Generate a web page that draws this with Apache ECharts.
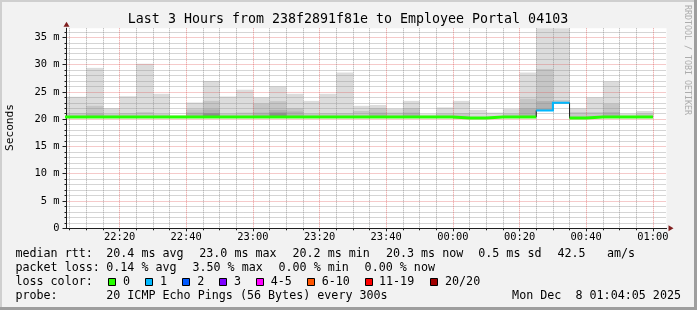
<!DOCTYPE html>
<html><head><meta charset="utf-8">
<script src="https://cdn.jsdelivr.net/npm/echarts@6/dist/echarts.min.js"></script>
<style>html,body{margin:0;padding:0;background:#f2f2f2;}#chart{width:697px;height:310px;}</style>
</head><body><div id="chart"></div>
<script>
// ---------- data ----------
const chartTitle = 'Last 3 Hours from 238f2891f81e to Employee Portal 04103';
const yAxisName = 'Seconds';
const sideText = 'RRDTOOL / TOBI OETIKER';
const startTime = '22:04:05';
const endTime = '01:04:05';
const xTickLabels = ['22:20','22:40','23:00','23:20','23:40','00:00','00:20','00:40','01:00'];
const yTickValues = [0, 5, 10, 15, 20, 25, 30, 35];
const yTickLabels = ['0','5 m','10 m','15 m','20 m','25 m','30 m','35 m'];
const yMax = 36.65;

// 5-minute intervals (end time of each interval)
const barEnds = ['22:05','22:10','22:15','22:20','22:25','22:30','22:35','22:40','22:45','22:50','22:55','23:00',
                 '23:05','23:10','23:15','23:20','23:25','23:30','23:35','23:40','23:45','23:50','23:55','00:00',
                 '00:05','00:10','00:15','00:20','00:25','00:30','00:35','00:40','00:45','00:50','00:55','01:00'];
// median rtt (ms)
const median = [20.4,20.4,20.4,20.4,20.4,20.4,20.4,20.4,20.4,20.4,20.4,20.4,
                20.4,20.4,20.4,20.4,20.4,20.4,20.4,20.4,20.4,20.4,20.4,20.4,
                20.2,20.2,20.4,20.4,20.4,21.6,23.0,20.2,20.4,20.4,20.4,20.4];
// lost pings per interval
const lossCount = [0,0,0,0,0,0,0,0,0,0,0,0, 0,0,0,0,0,0,0,0,0,0,0,0, 0,0,0,0,0,1,1,0,0,0,0,0];
// smoke: lowest ping and successive band tops (ms)
const smokeLow = [20.3,20.3,20.3,20.3,20.3,20.3,20.3,20.3,20.3,20.3,20.3,20.3,
                  20.3,20.3,20.3,20.3,20.3,20.3,20.3,20.3,20.3,20.3,20.3,20.3,
                  20.1,20.1,20.3,20.3,20.3,21.6,23.0,20.1,20.3,20.3,20.3,20.3];
const smokeMax = [24.1,24.1,29.4,22.0,24.2,30.15,24.65,20.7,23.05,27.0,24.15,25.4,
                  24.0,26.0,24.65,23.35,24.65,28.55,22.45,22.6,21.9,23.35,20.9,22.15,
                  23.35,21.7,21.2,21.85,28.55,38.0,38.0,22.0,24.0,26.9,21.0,21.5];
const smokeMid = [21.1,21.1,22.45,20.9,21.1,21.3,20.9,null,21.8,23.35,21.0,21.2,
                  22.85,23.3,22.0,21.0,21.1,21.1,21.5,22.0,21.2,22.0,null,21.0,
                  21.1,null,null,21.0,23.75,29.2,23.5,21.3,21.3,22.8,null,21.0];
const smokeInner = [null,null,21.0,null,null,null,null,null,21.2,21.8,null,null,
                    21.2,21.7,21.4,null,null,null,null,21.2,null,21.2,null,null,
                    null,null,null,null,22.0,23.3,null,null,null,21.3,null,null];
const smokeCore = [null,null,null,null,null,null,null,null,null,21.1,null,null,
                   null,21.2,null,null,null,null,null,null,null,null,null,null,
                   null,null,null,null,null,null,null,null,null,null,null,null];

// legend texts
const legendLabels = ['median rtt:','packet loss:','loss color:','probe:'];
const medianStats = ['20.4 ms avg','23.0 ms max','20.2 ms min','20.3 ms now','0.5 ms sd','42.5','am/s'];
const lossStats = ['0.14 % avg','3.50 % max','0.00 % min','0.00 % now'];
const lossColorLabels = ['0','1','2','3','4-5','6-10','11-19','20/20'];
const lossColors = ['#26ff00','#00b8ff','#0059ff','#7e00ff','#ff00ff','#ff5500','#ff0000','#a10000'];
const lossClassMax = [0,1,2,3,5,10,19,20];
const probeText = '20 ICMP Echo Pings (56 Bytes) every 300s';
const dateText = 'Mon Dec  8 01:04:05 2025';

// ---------- layout / style ----------
const MONO = '"DejaVu Sans Mono", monospace';
const shadeColors = ['#dcdcdc','#c6c6c6','#b2b2b2','#8f8f8f'];
const gridColor = 'rgba(143,143,143,0.75)';
const mgridColor = 'rgba(222,79,79,0.6)';
const medianStatX = [106.2,199.2,292.5,385.9,478.2,557.5,606.9];
const lossStatX = [106.2,192.4,278.5,364.6];
const lossBoxX = [108.5,145.5,182.5,219.5,256.5,307.5,365.5,430.5];
const lossTextX = [123,160,197.3,234,270.7,321.7,379,445];
const rowY = [254.3,268.3,282.3,296.3];

function toMin(s) {
  const p = s.split(':').map(Number);
  let m = p[0] * 60 + p[1] + (p[2] || 0) / 60;
  if (p[0] < 12) m += 1440;
  return m;
}
const xMin = toMin(startTime), xMax = toMin(endTime);
const majorX = xTickLabels.map(toMin);
const minorX = [];
for (let m = Math.ceil(xMin / 5) * 5; m < xMax; m += 5) if (m % 20 !== 0) minorX.push(m);
const minorY = [];
for (let v = 1; v < yMax; v++) if (v % 5 !== 0) minorY.push(v);

const n = barEnds.length;
const barEnd = barEnds.map(toMin);
const barStart = barEnd.map(e => e - 5);

const smokeData = [];
[smokeMax, smokeMid, smokeInner, smokeCore].forEach((arr, li) => {
  arr.forEach((v, i) => { if (v != null) smokeData.push([barStart[i], barEnd[i], smokeLow[i], v, li]); });
});

function lossClass(c) { for (let k = 0; k < lossClassMax.length; k++) if (c <= lossClassMax[k]) return k; return lossClassMax.length - 1; }
function stepPoints(filter) {
  const pts = []; let prevIn = false;
  for (let i = 0; i < n; i++) {
    if (filter(i)) { pts.push([barStart[i], median[i]], [barEnd[i], median[i]]); prevIn = true; }
    else if (prevIn) { pts.push([barEnd[i], '-']); prevIn = false; }
  }
  return pts;
}

const lineSeries = [{
  type: 'line', data: stepPoints(() => true), symbol: 'none', z: 5, silent: true,
  lineStyle: { color: '#202020', width: 1 }, animation: false
}];
lossColors.forEach((col, k) => {
  const pts = stepPoints(i => lossClass(lossCount[i]) === k);
  if (pts.length) lineSeries.push({
    type: 'line', data: pts, symbol: 'none', z: 6, silent: true, connectNulls: false,
    lineStyle: { color: col, width: k === 0 ? 3 : 2, cap: 'butt', join: 'miter' }, animation: false
  });
});

// ---------- graphic (frame, title, legend) ----------
const g = [];
g.push({ type: 'rect', shape: { x: 0, y: 0, width: 697, height: 2 }, style: { fill: '#cfcfcf' } });
g.push({ type: 'rect', shape: { x: 0, y: 0, width: 2, height: 310 }, style: { fill: '#cfcfcf' } });
g.push({ type: 'rect', shape: { x: 0, y: 307, width: 697, height: 3 }, style: { fill: '#9e9e9e' } });
g.push({ type: 'rect', shape: { x: 694, y: 0, width: 3, height: 310 }, style: { fill: '#9e9e9e' } });
function txt(text, x, y, size, opts) {
  opts = opts || {};
  return { type: 'text', x: x, y: y, rotation: opts.rotation || 0, silent: true,
    style: { text: text, font: size + 'px ' + MONO, fill: opts.fill || '#000',
      align: opts.align || 'left', verticalAlign: 'middle', textAlign: opts.align || 'left', textVerticalAlign: 'middle' } };
}
g.push(txt(chartTitle, 348, 19.3, 13.3, { align: 'center' }));
g.push(txt(yAxisName, 10.5, 127.5, 11.2, { align: 'center', rotation: Math.PI / 2 }));
g.push(txt(sideText, 687.5, 60, 8.3, { align: 'center', rotation: -Math.PI / 2, fill: '#acacac' }));
legendLabels.forEach((l, r) => g.push(txt(l, 15.4, rowY[r], 11.7)));
medianStats.forEach((s, i) => g.push(txt(s, medianStatX[i], rowY[0], 11.7)));
lossStats.forEach((s, i) => g.push(txt(s, lossStatX[i], rowY[1], 11.7)));
lossColorLabels.forEach((l, i) => {
  g.push({ type: 'rect', shape: { x: lossBoxX[i], y: 278.5, width: 7, height: 7 },
    style: { fill: lossColors[i], stroke: '#000', lineWidth: 1 } });
  g.push(txt(l, lossTextX[i], rowY[2], 11.7));
});
g.push(txt(probeText, 106.2, rowY[3], 11.7));
g.push(txt(dateText, 681, rowY[3], 11.7, { align: 'right' }));

// ---------- chart ----------
const chart = echarts.init(document.getElementById('chart'), null, { renderer: 'canvas' });
const xFmt = v => { const i = majorX.findIndex(t => Math.abs(t - v) < 1e-6); return i >= 0 ? xTickLabels[i] : ''; };
const yFmt = v => { const i = yTickValues.findIndex(t => Math.abs(t - v) < 1e-6); return i >= 0 ? yTickLabels[i] : ''; };
chart.setOption({
  animation: false,
  backgroundColor: '#f2f2f2',
  grid: { left: 66.5, top: 28.3, width: 600, height: 200, show: true, backgroundColor: '#ffffff', borderWidth: 0 },
  xAxis: [
    { type: 'value', min: xMin, max: xMax, position: 'bottom', z: 3,
      axisLine: { show: true, onZero: false, symbol: ['none', 'triangle'], symbolSize: [6, 5], symbolOffset: [0, 4.5],
        lineStyle: { color: '#801f1f', width: 1 } },
      axisTick: { show: true, customValues: minorX, length: 2, lineStyle: { color: '#1f1f1f' } },
      axisLabel: { show: false },
      splitLine: { show: true, lineStyle: { color: gridColor, width: 1, type: [1, 1] } } },
    { type: 'value', min: xMin, max: xMax, position: 'bottom', z: 4,
      axisLine: { show: true, onZero: false, lineStyle: { color: '#1f1f1f', width: 1 } },
      axisTick: { show: true, customValues: majorX, length: 3, lineStyle: { color: '#1f1f1f' } },
      axisLabel: { show: true, customValues: majorX, formatter: xFmt, fontFamily: MONO, fontSize: 10.4, color: '#000', margin: 4 },
      splitLine: { show: true, lineStyle: { color: mgridColor, width: 1, type: [1, 1] } } }
  ],
  yAxis: [
    { type: 'value', min: 0, max: yMax, position: 'left', z: 3,
      axisLine: { show: true, onZero: false, symbol: ['none', 'triangle'], symbolSize: [6, 5], symbolOffset: [0, 4],
        lineStyle: { color: '#801f1f', width: 1 } },
      axisTick: { show: true, customValues: minorY, length: 2, lineStyle: { color: '#1f1f1f' } },
      axisLabel: { show: false },
      splitLine: { show: true, lineStyle: { color: gridColor, width: 1, type: [1, 1] } } },
    { type: 'value', min: 0, max: yMax, position: 'left', z: 4,
      axisLine: { show: true, onZero: false, lineStyle: { color: '#1f1f1f', width: 1 } },
      axisTick: { show: true, customValues: yTickValues, length: 4, lineStyle: { color: '#1f1f1f' } },
      axisLabel: { show: true, customValues: yTickValues, formatter: yFmt, fontFamily: MONO, fontSize: 10.4, color: '#000', margin: 7 },
      splitLine: { show: true, showMinLine: false, lineStyle: { color: mgridColor, width: 1, type: [1, 1] } } }
  ],
  series: [{
    type: 'custom', data: smokeData, z: 1, silent: true, xAxisIndex: 0, yAxisIndex: 0,
    encode: { x: [0, 1], y: [2, 3] },
    renderItem: function (params, api) {
      const p1 = api.coord([api.value(0), api.value(3)]);
      const p2 = api.coord([api.value(1), api.value(2)]);
      const cs = params.coordSys;
      const r = echarts.graphic.clipRectByRect(
        { x: p1[0], y: p1[1], width: p2[0] - p1[0] + 0.4, height: p2[1] - p1[1] },
        { x: cs.x, y: cs.y, width: cs.width, height: cs.height });
      return r && { type: 'rect', shape: r, style: { fill: shadeColors[api.value(4)] } };
    }
  }].concat(lineSeries),
  graphic: { elements: g }
});
</script></body></html>
